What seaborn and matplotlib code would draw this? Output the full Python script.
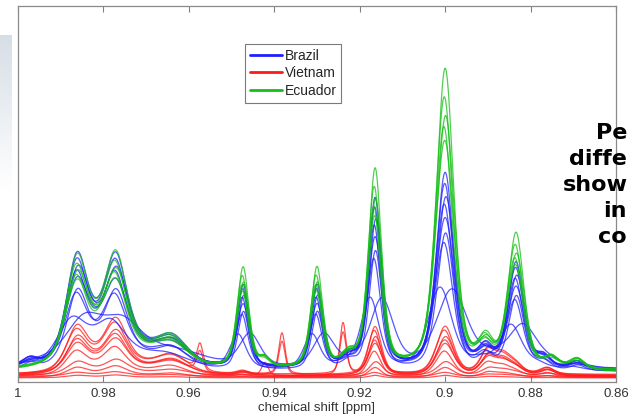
import numpy as np
import pandas as pd
import matplotlib
matplotlib.use("Agg")
import matplotlib.pyplot as plt
from matplotlib.lines import Line2D
from matplotlib import font_manager
import seaborn as sns

# ---------------- data ----------------
tick_values = [1.0, 0.98, 0.96, 0.94, 0.92, 0.90, 0.88, 0.86]
tick_labels = ["1", "0.98", "0.96", "0.94", "0.92", "0.9", "0.88", "0.86"]
legend_countries = ["Brazil", "Vietnam", "Ecuador"]
draw_order = ["Vietnam", "Brazil", "Ecuador"]

# Ecuador: peak table of the strongest spectrum
ecuador_peak_ppm = [0.9862, 0.9771, 0.9780, 0.9640, 0.9473, 0.9422, 0.9300, 0.9225,
                    0.9164, 0.9000, 0.8905, 0.8834, 0.8750, 0.8690]
ecuador_peak_height = [0.26, 0.21, 0.10, 0.08, 0.27, 0.025, 0.27, 0.035,
                       0.53, 0.80, 0.07, 0.36, 0.03, 0.03]
ecuador_peak_hwhm = [0.0029, 0.0029, 0.0075, 0.0045, 0.0016, 0.0015, 0.0016, 0.0020,
                     0.0018, 0.0024, 0.0020, 0.0022, 0.0020, 0.0020]
ecuador_scale = [1.0, 0.90, 0.84, 0.80, 0.76]
ecuador_shift = [0.0, 0.0002, -0.0001, 0.0003, 0.0001]
ecuador_broaden = [1.0, 1.0, 1.05, 1.0, 1.1]
ecuador_baseline = [0.025, 0.030, 0.028, 0.032, 0.026]

# Brazil
brazil_peak_ppm = [0.9972, 0.9862, 0.9771, 0.9780, 0.9640, 0.9473, 0.9300, 0.9225,
                   0.9164, 0.9000, 0.8905, 0.8834, 0.8770, 0.8690]
brazil_peak_height = [0.02, 0.26, 0.20, 0.10, 0.075, 0.22, 0.22, 0.03,
                      0.45, 0.52, 0.05, 0.28, 0.03, 0.02]
brazil_peak_hwhm = [0.0020, 0.0029, 0.0029, 0.0075, 0.0045, 0.0016, 0.0016, 0.0020,
                    0.0018, 0.0024, 0.0020, 0.0022, 0.0020, 0.0020]
brazil_scale = [1.0, 0.94, 0.88, 0.83, 0.77, 0.70, 0.64, 0.40, 0.42]
brazil_shift = [0.0, 0.0001, -0.0002, 0.0002, 0.0, -0.0001, 0.0003, -0.0016, 0.0012]
brazil_broaden = [1.0, 1.0, 1.05, 1.0, 1.1, 1.0, 1.05, 1.8, 1.4]
brazil_baseline = [0.030, 0.032, 0.028, 0.035, 0.030, 0.027, 0.033, 0.030, 0.028]

# Vietnam
vietnam_peak_ppm = [0.9862, 0.9771, 0.9780, 0.9640, 0.9473, 0.9164, 0.9000,
                    0.8900, 0.8865, 0.8834, 0.8760]
vietnam_peak_height = [0.11, 0.10, 0.05, 0.05, 0.01, 0.13, 0.13,
                       0.06, 0.05, 0.02, 0.02]
vietnam_peak_hwhm = [0.0029, 0.0029, 0.0075, 0.0045, 0.0016, 0.0018, 0.0024,
                     0.0020, 0.0025, 0.0022, 0.0020]
vietnam_scale = [1.0, 0.90, 0.80, 0.72, 0.62, 0.52, 0.28, 0.20, 0.08, 0.05]
vietnam_shift = [0.0, 0.0002, -0.0001, 0.0001, 0.0, 0.0002, -0.0002, 0.0, 0.0001, 0.0]
vietnam_baseline = [0.015, 0.018, 0.014, 0.016, 0.020, 0.013, 0.017, 0.012, 0.015, 0.011]
# extra sharp signals seen only in some Vietnam spectra
vietnam_sharp_ppm = [0.9574, 0.9422, 0.9382, 0.9239]
vietnam_sharp_hwhm = 0.0009
vietnam_sharp_height = [
    [0.0, 0.0, 0.0, 0.0],
    [0.07, 0.0, 0.11, 0.0],
    [0.0, 0.035, 0.0, 0.14],
    [0.055, 0.0, 0.09, 0.0],
    [0.0, 0.0, 0.0, 0.11],
    [0.0, 0.0, 0.0, 0.0],
    [0.0, 0.0, 0.0, 0.0],
    [0.0, 0.0, 0.0, 0.0],
    [0.0, 0.0, 0.0, 0.0],
    [0.0, 0.0, 0.0, 0.0],
]

colors = {"Brazil": "#1f1fff", "Vietnam": "#ff1a1a", "Ecuador": "#14c014"}

# ---------------- build spectra from the peak tables ----------------
ppm = np.linspace(1.0, 0.86, 1401)


def line_shape(center, hwhm):
    r2 = ((ppm - center) / hwhm) ** 2
    return 0.5 / (1.0 + r2) + 0.5 * np.exp(-np.log(2) * r2)


rows = []


def add_country(name, pk, ph, pw, scale, shift, broaden, base, sharp=None):
    for i in range(len(scale)):
        y = np.full_like(ppm, base[i])
        for c, h, w in zip(pk, ph, pw):
            y = y + scale[i] * h * line_shape(c + shift[i], w * broaden[i])
        if sharp is not None:
            for c, h in zip(vietnam_sharp_ppm, sharp[i]):
                if h > 0:
                    y = y + h * line_shape(c, vietnam_sharp_hwhm)
        rows.append(pd.DataFrame({"ppm": ppm, "intensity": y,
                                  "country": name, "sample": f"{name}{i}"}))


add_country("Vietnam", vietnam_peak_ppm, vietnam_peak_height, vietnam_peak_hwhm,
            vietnam_scale, vietnam_shift, [1.0] * len(vietnam_scale),
            vietnam_baseline, vietnam_sharp_height)
add_country("Brazil", brazil_peak_ppm, brazil_peak_height, brazil_peak_hwhm,
            brazil_scale, brazil_shift, brazil_broaden, brazil_baseline)
add_country("Ecuador", ecuador_peak_ppm, ecuador_peak_height, ecuador_peak_hwhm,
            ecuador_scale, ecuador_shift, ecuador_broaden, ecuador_baseline)
df = pd.concat(rows, ignore_index=True)

# ---------------- figure ----------------
sns.set_theme(style="white")
names = {f.name for f in font_manager.fontManager.ttflist}
narrow = "Liberation Sans Narrow" if "Liberation Sans Narrow" in names else "Liberation Sans"
plt.rcParams["font.family"] = ["Liberation Sans", "DejaVu Sans"]

W, H = 629, 416
fig = plt.figure(figsize=(W / 100, H / 100), dpi=100, facecolor="white")

# slide decoration at the left edge
deco = fig.add_axes([0, 1 - 190 / H, 12 / W, 155 / H])
grad = np.linspace(0, 1, 100)[:, None]
top_c = np.array([0.84, 0.87, 0.90])
img = top_c[None, None, :] * (1 - grad[:, :, None]) + np.ones(3)[None, None, :] * grad[:, :, None]
deco.imshow(img, aspect="auto", extent=[0, 1, 0, 1])
deco.axis("off")

ax = fig.add_axes([18 / W, 1 - 382 / H, 598 / W, 376 / H])
sns.lineplot(data=df, x="ppm", y="intensity", hue="country", units="sample",
             estimator=None, hue_order=draw_order, palette=colors,
             lw=0.9, alpha=0.75, legend=False, ax=ax, sort=False)

ax.set_xlim(1.0, 0.86)
ax.set_ylim(0, 1)
ax.set_xticks(tick_values)
ax.set_xticklabels(tick_labels)
ax.set_yticks([])
ax.set_ylabel("")
ax.set_xlabel("chemical shift [ppm]", fontsize=9.5, color="#333333", labelpad=1.5)
ax.tick_params(axis="x", direction="in", top=True, bottom=True, length=4,
               width=0.8, color="#808080", labelsize=9.5, labelcolor="#333333", pad=4)
for s in ax.spines.values():
    s.set_visible(True)
    s.set_color("#8a8a8a")
    s.set_linewidth(0.9)

handles = [Line2D([0], [0], color=colors[c], lw=2.0) for c in legend_countries]
leg = ax.legend(handles, legend_countries, loc="upper left",
                bbox_to_anchor=((245 - 18) / 598, (382 - 44) / 376),
                borderaxespad=0, fancybox=False, framealpha=1, edgecolor="#7a7a7a",
                prop={"family": narrow, "size": 10}, handlelength=2.3,
                handletextpad=0.2, labelspacing=0.25, borderpad=0.35)
leg.get_frame().set_linewidth(0.8)

# slide text partially visible at the right edge (kept inside the canvas)
for txt, x, y, ha in [("Pe", 627, 133, "right"), ("diffe", 627, 159, "right"),
                      ("show", 563, 185, "left"), ("in", 627, 211, "right"),
                      ("co", 627, 237, "right")]:
    fig.text(x / W, 1 - y / H, txt, ha=ha, va="center", fontsize=16,
             fontweight="bold", family="DejaVu Sans", color="black")

fig.savefig("out.png", dpi=100, facecolor="white")
